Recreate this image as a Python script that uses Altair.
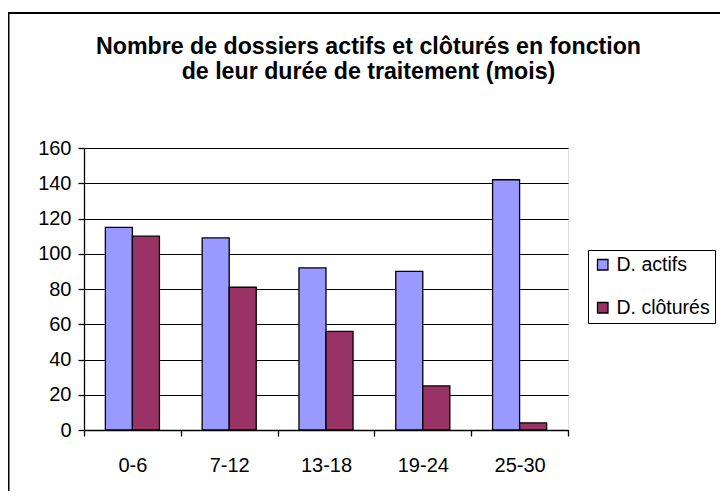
import altair as alt
import pandas as pd

categories = ["0-6", "7-12", "13-18", "19-24", "25-30"]
actifs = [115, 109, 92, 90, 142]
clotures = [110, 81, 56, 25, 4]
series = ["D. actifs", "D. clôturés"]
colors = ["#9999FF", "#993366"]
title_lines = ["Nombre de dossiers actifs et clôturés en fonction",
               "de leur durée de traitement (mois)"]

rows = []
for c, a, b in zip(categories, actifs, clotures):
    rows.append({"cat": c, "serie": series[0], "val": a})
    rows.append({"cat": c, "serie": series[1], "val": b})
df = pd.DataFrame(rows)

FONT = "Liberation Sans"

bars = alt.Chart(df).mark_bar(stroke="black", strokeWidth=1.3).encode(
    x=alt.X("cat:N", sort=categories, title=None,
            scale=alt.Scale(paddingInner=0, paddingOuter=0),
            axis=alt.Axis(labelAngle=0, tickBand="extent", domainColor="black",
                          tickColor="black", tickSize=6, labelPadding=19,
                          labelFontSize=20, labelFont=FONT, labelColor="black",
                          domainWidth=1.3, tickWidth=1.3, grid=False)),
    xOffset=alt.XOffset("serie:N", sort=series,
                        scale=alt.Scale(paddingInner=0, paddingOuter=0.79)),
    y=alt.Y("val:Q", title=None,
            scale=alt.Scale(domain=[0, 160]),
            axis=alt.Axis(values=list(range(0, 161, 20)), domainColor="black",
                          tickColor="black", tickSize=6, labelPadding=7,
                          labelFontSize=20, labelFont=FONT, labelColor="black",
                          domainWidth=1.3, tickWidth=1.3,
                          grid=True, gridColor="black", gridWidth=1)),
    color=alt.Color("serie:N", sort=series,
                    scale=alt.Scale(domain=series, range=colors),
                    legend=alt.Legend(title=None, orient="none",
                                      legendX=504, legendY=102,
                                      symbolType="square", symbolSize=110,
                                      symbolStrokeColor="black", symbolStrokeWidth=1.3,
                                      labelFontSize=19.5, labelFont=FONT,
                                      labelColor="black", rowPadding=22,
                                      padding=5, strokeColor="black",
                                      fillColor="white", labelOffset=4,
                                      symbolOffset=0)),
)

deco = pd.DataFrame({"k": [0]})

frame = alt.Chart(deco).mark_rect(
    fillOpacity=0, stroke="black", strokeWidth=2
).encode(
    x=alt.value(-75.5), x2=alt.value(700),
    y=alt.value(-135), y2=alt.value(420),
)

title = alt.Chart(deco).mark_text(
    text=title_lines, font=FONT, fontSize=23.2, fontWeight="bold", color="black",
    align="center", baseline="alphabetic", lineHeight=25
).encode(x=alt.value(284.5), y=alt.value(-94.5))

chart = alt.layer(frame, title, bars).properties(
    width=484, height=282,
    padding={"left": 76, "top": 140, "right": 152, "bottom": 61},
    autosize=alt.AutoSizeParams(type="none"),
).configure_view(fill="#C0C0C0", stroke="#808080", strokeWidth=1
).configure(background="white")

chart.save("out.html", embed_options={"renderer": "svg", "actions": False})
